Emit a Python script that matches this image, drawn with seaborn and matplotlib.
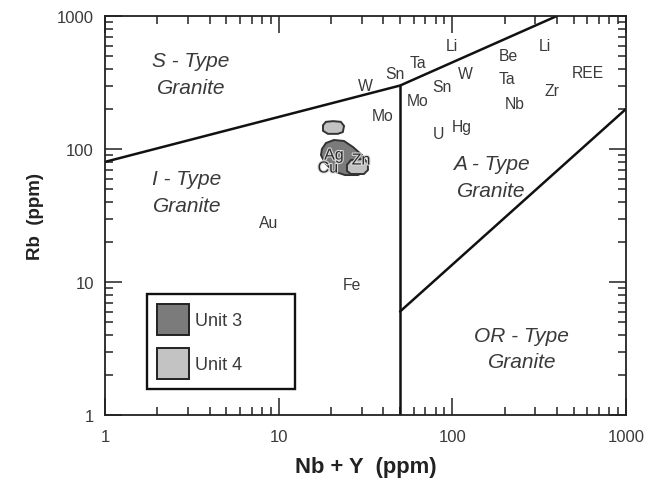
import matplotlib
matplotlib.use("Agg")
import matplotlib.pyplot as plt
import matplotlib.patheffects as pe
import seaborn as sns
import pandas as pd
from matplotlib.patches import Patch
from matplotlib.ticker import LogLocator, NullFormatter, FixedLocator, FixedFormatter

# ---- data ----
# field boundaries (Nb+Y, Rb)
upper_x = [1, 50, 400]
upper_y = [80, 300, 1000]
vert_x = [50, 50]
vert_y = [1, 300]
lower_x = [50, 1000]
lower_y = [6, 200]

# field names
field_names = ["S - Type\nGranite", "I - Type\nGranite", "A - Type\nGranite", "OR - Type\nGranite"]
field_x = [3.13, 2.97, 167, 251]
field_y = [366, 47.5, 61.6, 3.16]

# mineralisation element labels
elem_names = ["W", "Sn", "Ta", "Li", "Be", "Li", "W", "Sn", "Mo", "Mo", "Ta", "REE",
              "Zr", "Nb", "Hg", "U", "Au", "Fe"]
elem_x = [31.5, 47, 63, 100, 210, 342, 119, 87.5, 63, 39.5, 205, 600,
          376, 230, 113, 83, 8.7, 26.3]
elem_y = [300, 370, 450, 600, 505, 600, 370, 295, 232, 178, 340, 375,
          275, 220, 148, 130, 28, 9.5]

# labels inside the unit outlines
blob_names = ["Ag", "Zn", "Cu"]
blob_x = [20.8, 29.8, 19.2]
blob_y = [90, 82.6, 72]

# unit outlines
unit3_x = [17.75, 18.71, 20.80, 23.77, 26.78, 30.17, 32.2, 31.81, 28.61, 24.08, 20.54, 18.48, 17.52]
unit3_y = [100, 110.9, 116.9, 114.9, 103.5, 90.1, 78.5, 68.3, 63.7, 63.7, 68.3, 78.5, 90.1]
unit4a_x = [18.0, 18.7, 20.6, 22.8, 23.8, 23.4, 21.9, 19.2, 18.0]
unit4a_y = [151, 160, 162, 160, 149, 134, 130, 130, 137]
unit4b_x = [24.73, 26.08, 30.97, 32.66, 32.66, 30.97, 26.08, 24.73]
unit4b_y = [75.9, 82.6, 84.1, 78.5, 69.5, 64.9, 64.9, 68.3]

legend_labels = ["Unit 3", "Unit 4"]
unit3_color = "#7b7b7b"
unit4_color = "#c3c3c3"

x_ticks = [1, 10, 100, 1000]
x_ticklabels = ["1", "10", "100", "1000"]
y_ticks = [1, 10, 100, 1000]
y_ticklabels = ["1", "10", "100", "1000"]

# ---- plot ----
sns.set_theme(style="ticks")
plt.rcParams["font.family"] = ["Liberation Sans", "DejaVu Sans"]

fig = plt.figure(figsize=(6.49, 4.81), dpi=100)
ax = fig.add_axes([105 / 649, 1 - 416 / 481, 521 / 649, 399 / 481])
ax.set_xscale("log")
ax.set_yscale("log")
ax.set_xlim(1, 1000)
ax.set_ylim(1, 1000)

txtc = "#3a3a3a"
for xs, ys in [(upper_x, upper_y), (vert_x, vert_y), (lower_x, lower_y)]:
    df = pd.DataFrame({"x": xs, "y": ys})
    sns.lineplot(data=df, x="x", y="y", sort=False, estimator=None,
                 color="#111111", linewidth=1.8, ax=ax)

for xs, ys, c in [(unit3_x, unit3_y, unit3_color),
                  (unit4a_x, unit4a_y, unit4_color),
                  (unit4b_x, unit4b_y, unit4_color)]:
    ax.fill(xs, ys, facecolor=c, edgecolor="#333333", linewidth=1.4, zorder=3)

for name, x, y in zip(field_names, field_x, field_y):
    ax.text(x, y, name, ha="center", va="center", fontsize=15, style="italic",
            color=txtc, linespacing=1.5, zorder=4)

for name, x, y in zip(elem_names, elem_x, elem_y):
    ax.text(x, y, name, ha="center", va="center", fontsize=11.3, color=txtc, zorder=5)

for name, x, y in zip(blob_names, blob_x, blob_y):
    ax.text(x, y, name, ha="center", va="center", fontsize=11.5, color="#2a2a2a", zorder=6,
            path_effects=[pe.withStroke(linewidth=1.6, foreground="#d8d8d8")])

handles = [Patch(facecolor=unit3_color, edgecolor="#222222", linewidth=1.4),
           Patch(facecolor=unit4_color, edgecolor="#222222", linewidth=1.4)]
leg = ax.legend(handles, legend_labels, loc="lower left", mode="expand",
                bbox_to_anchor=(0.0806, 0.065, 0.284, 0.238), fontsize=13,
                handlelength=1.78, handleheight=2.27, handletextpad=0.35,
                labelspacing=0.72, borderpad=0.55, borderaxespad=0, fancybox=False,
                frameon=True, edgecolor="#111111", framealpha=1, labelcolor=txtc)
leg.get_frame().set_linewidth(1.7)

ax.xaxis.set_major_locator(FixedLocator(x_ticks))
ax.xaxis.set_major_formatter(FixedFormatter(x_ticklabels))
ax.yaxis.set_major_locator(FixedLocator(y_ticks))
ax.yaxis.set_major_formatter(FixedFormatter(y_ticklabels))
ax.xaxis.set_minor_locator(LogLocator(base=10, subs=range(2, 10)))
ax.yaxis.set_minor_locator(LogLocator(base=10, subs=range(2, 10)))
ax.xaxis.set_minor_formatter(NullFormatter())
ax.yaxis.set_minor_formatter(NullFormatter())
ax.tick_params(which="both", direction="in", top=True, right=True, width=1.1,
               color="#222222", labelsize=12, labelcolor=txtc)
ax.tick_params(axis="x", which="both", pad=10)
ax.tick_params(axis="y", which="both", pad=8)
ax.tick_params(which="major", length=12)
ax.tick_params(which="minor", length=6)
for s in ax.spines.values():
    s.set_linewidth(1.3)
    s.set_color("#222222")

ax.set_xlabel("Nb + Y  (ppm)", fontsize=15.8, fontweight="bold", color="#222222", labelpad=9)
ax.set_ylabel("Rb  (ppm)", fontsize=13.5, fontweight="bold", color="#222222", labelpad=9)

fig.savefig("out.png", dpi=100)
